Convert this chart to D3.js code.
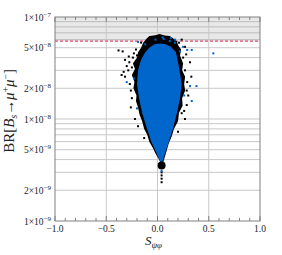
<!DOCTYPE html>
<html>
<head>
<meta charset="utf-8">
<script src="https://cdn.jsdelivr.net/npm/d3@7/dist/d3.min.js"></script>
<style>
  body { margin: 0; background: #fff; }
  text { font-family: "Liberation Serif", "DejaVu Serif", serif; fill: #222; }
</style>
</head>
<body>
<svg id="chart" width="282" height="255"></svg>
<script>
// axis ticks
var xTicks = [-1, -0.5, 0, 0.5, 1];
var xTickLabels = ["\u22121.0", "\u22120.5", "0.0", "0.5", "1.0"];
var yTicks = [1e-9, 2e-9, 5e-9, 1e-8, 2e-8, 5e-8, 1e-7];
var yTickMant = ["1", "2", "5", "1", "2", "5", "1"];
var yTickExp = ["\u22129", "\u22129", "\u22129", "\u22128", "\u22128", "\u22128", "\u22127"];

// experimental upper bound (shaded above)
var expLimit = 5.8e-8;
// SM point
var smPoint = [0.04, 3.5e-9];

// outline of the dense blue region [S_psiphi, BR]
var blueCore = [
  [0.04, 3.6e-9], [0.0, 4.4e-9], [-0.06, 6.0e-9], [-0.11, 8.5e-9],
  [-0.15, 1.15e-8], [-0.18, 1.6e-8], [-0.20, 2.2e-8], [-0.19, 3.0e-8],
  [-0.16, 3.8e-8], [-0.12, 4.5e-8], [-0.08, 5.0e-8], [-0.03, 5.4e-8],
  [0.03, 5.5e-8], [0.08, 5.4e-8], [0.13, 5.1e-8], [0.18, 4.5e-8],
  [0.20, 3.6e-8], [0.22, 2.8e-8], [0.235, 2.2e-8], [0.22, 1.6e-8],
  [0.19, 1.15e-8], [0.15, 8.0e-9], [0.11, 6.0e-9], [0.07, 4.5e-9]
];

// ragged outline of the black points surrounding it
var blackHalo = [
  [0.045, 3.45e-9], [0.01, 4.1e-9], [-0.02, 4.6e-9], [-0.045, 5.2e-9],
  [-0.08, 6.0e-9], [-0.10, 7.0e-9], [-0.13, 8.0e-9], [-0.15, 9.5e-9],
  [-0.175, 1.1e-8], [-0.19, 1.3e-8], [-0.21, 1.5e-8], [-0.205, 1.7e-8],
  [-0.235, 2.0e-8], [-0.225, 2.3e-8], [-0.25, 2.7e-8], [-0.22, 3.1e-8],
  [-0.24, 3.5e-8], [-0.20, 4.0e-8], [-0.19, 4.5e-8], [-0.16, 5.0e-8],
  [-0.14, 5.6e-8], [-0.11, 6.1e-8], [-0.08, 6.5e-8], [-0.03, 6.6e-8],
  [0.02, 6.8e-8], [0.07, 6.6e-8], [0.12, 6.5e-8], [0.15, 6.2e-8],
  [0.19, 5.8e-8], [0.20, 5.3e-8], [0.23, 4.8e-8], [0.22, 4.2e-8],
  [0.25, 3.5e-8], [0.24, 3.0e-8], [0.27, 2.6e-8], [0.26, 2.2e-8],
  [0.27, 1.9e-8], [0.24, 1.6e-8], [0.245, 1.35e-8], [0.21, 1.15e-8],
  [0.2, 9.5e-9], [0.16, 8.0e-9], [0.14, 6.8e-9], [0.11, 5.8e-9],
  [0.09, 4.9e-9], [0.07, 4.2e-9]
];

// scattered black points
var blackPoints = [
  [-0.34, 4.6e-8], [-0.23, 4.4e-8], [-0.24, 4.0e-8], [-0.275, 3.6e-8],
  [-0.30, 3.3e-8], [-0.25, 3.2e-8], [0.317, 3.6e-8], [0.236, 6.0e-8],
  [-0.20, 4.2e-8], [-0.317, 3.8e-8], [-0.38, 4.7e-8], [-0.285, 3.0e-8],
  [-0.35, 2.7e-8], [0.268, 5.1e-8], [-0.04, 6.4e-8], [0.268, 3.0e-8],
  [-0.317, 2.6e-8], [0.285, 1.37e-8], [-0.25, 1.6e-8], [0.268, 1.0e-8],
  [0.236, 1.14e-8], [0.285, 1.9e-8], [0.04, 3.0e-9], [0.04, 2.8e-9],
  [0.04, 2.6e-9], [0.04, 2.4e-9], [-0.33, 2.9e-8], [0.33, 2.6e-8],
  [-0.27, 2.2e-8], [-0.26, 1.3e-8], [-0.22, 1.0e-8], [0.30, 1.7e-8],
  [0.26, 1.2e-8], [-0.28, 4.1e-8], [0.28, 4.3e-8], [-0.19, 8.5e-9],
  [0.20, 7.5e-9], [-0.13, 6.5e-9], [-0.26, 1.9e-8], [0.29, 2.3e-8],
  [-0.21, 4.8e-8], [0.25, 4.0e-8], [-0.16, 5.6e-8], [0.21, 5.6e-8]
];

// scattered blue points
var bluePoints = [
  [0.29, 4.75e-8], [0.25, 5.1e-8], [0.545, 4.4e-8], [0.13, 6.2e-8],
  [-0.19, 5.7e-8], [0.334, 4.75e-8], [0.22, 4.6e-8], [-0.30, 2.3e-8],
  [0.317, 2.1e-8], [0.38, 2.1e-8], [0.334, 1.5e-8], [-0.20, 1.27e-8],
  [0.04, 3.1e-9], [0.17, 6.0e-8], [0.05, 6.3e-8], [0.06, 6.1e-8],
  [0.12, 5.8e-8], [-0.02, 6.0e-8], [0.17, 5.6e-8], [-0.23, 2.5e-8],
  [0.26, 1.7e-8], [-0.12, 5.4e-8]
];

var margin = {top: 17, right: 22, bottom: 34, left: 55},
    width = 282 - margin.left - margin.right,
    height = 255 - margin.top - margin.bottom;

var svg = d3.select("#chart");
var g = svg.append("g").attr("transform", "translate(" + margin.left + "," + margin.top + ")");

var x = d3.scaleLinear().domain([-1, 1]).range([0, width]);
var y = d3.scaleLog().domain([1e-9, 1e-7]).range([height, 0]);

var gridCol = "#c8c8c8";

// shaded excluded region
g.append("rect")
  .attr("x", 0).attr("y", 0)
  .attr("width", width).attr("height", y(expLimit))
  .attr("fill", "#e8e8e8");

// horizontal grid: every 1..9 x 10^n
var yGrid = [];
[1e-9, 1e-8].forEach(function(b) {
  for (var k = 1; k <= 9; k++) yGrid.push(k * b);
});
g.selectAll(".hgrid")
  .data(yGrid.slice(1))
  .enter().append("line")
    .attr("class", "hgrid")
    .attr("x1", 0).attr("x2", width)
    .attr("y1", function(d) { return y(d); })
    .attr("y2", function(d) { return y(d); })
    .attr("stroke", function(d) { return d > expLimit ? "#bdbdbd" : gridCol; })
    .attr("stroke-width", 1);

g.selectAll(".vgrid")
  .data([-0.5, 0, 0.5])
  .enter().append("line")
    .attr("class", "vgrid")
    .attr("x1", function(d) { return x(d); })
    .attr("x2", function(d) { return x(d); })
    .attr("y1", 0).attr("y2", height)
    .attr("stroke", gridCol);

// limit line
g.append("line")
  .attr("x1", 0).attr("x2", width)
  .attr("y1", y(expLimit)).attr("y2", y(expLimit))
  .attr("stroke", "#e07a92")
  .attr("stroke-width", 1.6)
  .attr("stroke-dasharray", "3,2");

var area = d3.line()
  .x(function(d) { return x(d[0]); })
  .y(function(d) { return y(d[1]); })
  .curve(d3.curveLinearClosed);

g.append("path").attr("d", area(blackHalo)).attr("fill", "#000");
g.append("path").attr("d", area(blueCore)).attr("fill", "#0066cc");

g.selectAll(".bp")
  .data(blackPoints)
  .enter().append("rect")
    .attr("class", "bp")
    .attr("x", function(d) { return x(d[0]) - 1; })
    .attr("y", function(d) { return y(d[1]) - 1; })
    .attr("width", 2).attr("height", 2)
    .attr("fill", "#000");

g.selectAll(".blp")
  .data(bluePoints)
  .enter().append("rect")
    .attr("class", "blp")
    .attr("x", function(d) { return x(d[0]) - 1; })
    .attr("y", function(d) { return y(d[1]) - 1; })
    .attr("width", 2).attr("height", 2)
    .attr("fill", "#0066cc");

g.append("circle")
  .attr("cx", x(smPoint[0])).attr("cy", y(smPoint[1]))
  .attr("r", 4).attr("fill", "#000");

// frame
g.append("rect")
  .attr("width", width).attr("height", height)
  .attr("fill", "none").attr("stroke", "#808080").attr("stroke-width", 1);

// x ticks top and bottom
var xMinor = d3.range(-10, 11).map(function(i) { return i / 10; });
g.selectAll(".xt")
  .data(xMinor)
  .enter().append("g")
    .each(function(d) {
      var len = (Math.abs(d * 2 - Math.round(d * 2)) < 1e-6) ? 5 : 3;
      d3.select(this).append("line")
        .attr("x1", x(d)).attr("x2", x(d)).attr("y1", height).attr("y2", height - len)
        .attr("stroke", "#808080");
      d3.select(this).append("line")
        .attr("x1", x(d)).attr("x2", x(d)).attr("y1", 0).attr("y2", len)
        .attr("stroke", "#808080");
    });

g.selectAll(".xl")
  .data(xTicks)
  .enter().append("text")
    .attr("x", function(d) { return x(d); })
    .attr("y", height + 11)
    .attr("text-anchor", "middle")
    .attr("font-size", "9.5px")
    .text(function(d, i) { return xTickLabels[i]; });

var yl = g.selectAll(".yl")
  .data(yTicks)
  .enter().append("text")
    .attr("x", -4)
    .attr("y", function(d) { return y(d) + 3.5; })
    .attr("text-anchor", "end")
    .attr("font-size", "9.5px");
yl.append("tspan").text(function(d, i) { return yTickMant[i] + "\u00d710"; });
yl.append("tspan").attr("dy", -4).attr("font-size", "7px").text(function(d, i) { return yTickExp[i]; });

// axis titles
var xt = svg.append("text")
  .attr("x", margin.left + x(0) - 4)
  .attr("y", 245)
  .attr("text-anchor", "middle")
  .attr("font-size", "13px");
xt.append("tspan").attr("font-style", "italic").text("S");
xt.append("tspan").attr("font-style", "italic").attr("font-size", "9px").attr("dy", 3).text("\u03c8\u03c6");

var ytl = svg.append("text")
  .attr("transform", "translate(14," + (margin.top + y(1.2e-8)) + ") rotate(-90)")
  .attr("text-anchor", "middle")
  .attr("font-size", "15px");
ytl.append("tspan").text("BR[");
ytl.append("tspan").attr("font-style", "italic").text("B");
ytl.append("tspan").attr("font-size", "9.5px").attr("font-style", "italic").attr("dy", 3).text("s");
ytl.append("tspan").attr("dy", -3).text("\u2192");
ytl.append("tspan").attr("font-style", "italic").text("\u03bc");
ytl.append("tspan").attr("font-size", "9.5px").attr("dy", -5).text("+");
ytl.append("tspan").attr("dy", 5).attr("font-style", "italic").text("\u03bc");
ytl.append("tspan").attr("font-size", "9.5px").attr("dy", -5).text("\u2212");
ytl.append("tspan").attr("dy", 5).text("]");
</script>
</body>
</html>
